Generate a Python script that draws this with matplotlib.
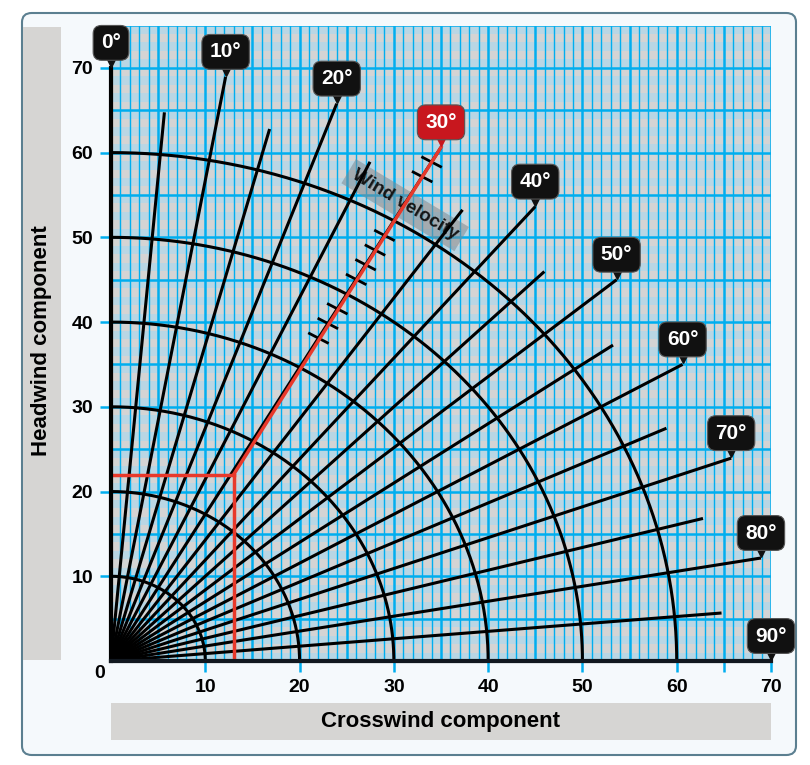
import numpy as np
import matplotlib
matplotlib.use('Agg')
import matplotlib.pyplot as plt
from matplotlib.patches import FancyBboxPatch, Rectangle
import matplotlib.transforms as mtransforms

plt.rcParams['font.family'] = ['Liberation Sans', 'DejaVu Sans']
plt.rcParams['font.weight'] = 'bold'

# chart data
major_angles = [0, 10, 20, 30, 40, 50, 60, 70, 80, 90]
minor_angles = [5, 15, 25, 35, 45, 55, 65, 75, 85]
major_len = 70
minor_len = 65
arc_radii = [10, 20, 30, 40, 50, 60]
x_ticks = [10, 20, 30, 40, 50, 60, 70]
y_ticks = [10, 20, 30, 40, 50, 60, 70]
wind_angle = 30
crosswind = 13
headwind = 22
velocity_marks = [44, 46, 48, 52, 54, 56, 58, 66, 68]

W, H = 810, 765
fig = plt.figure(figsize=(W / 100, H / 100), dpi=100)

# outer frame and label boxes (behind the axes)
frame = FancyBboxPatch((22 / W, 1 - 755 / H), (796 - 22) / W, (755 - 13) / H,
                       boxstyle='round,pad=0,rounding_size=0.012',
                       transform=fig.transFigure, fc='#f5f9fc', ec='#5b7f90', lw=1.5, zorder=-3)
fig.patches.append(frame)
fig.patches.append(Rectangle((23 / W, 1 - 660 / H), 38 / W, 633 / H,
                             transform=fig.transFigure, fc='#d6d5d3', ec='none', zorder=-2))
fig.patches.append(Rectangle((111 / W, 1 - 740 / H), 660 / W, 37 / H,
                             transform=fig.transFigure, fc='#d6d5d3', ec='none', zorder=-2))
fig.text(42 / W, 1 - 341 / H, 'Headwind component', rotation=90,
         ha='center', va='center', fontsize=16)
fig.text(441 / W, 1 - 721 / H, 'Crosswind component', ha='center', va='center', fontsize=16)

ax = fig.add_axes([111 / W, 104 / H, 660 / W, (661 - 25.5) / H])
ax.set_xlim(0, 70)
ax.set_ylim(0, 75)
ax.set_facecolor('#d4d4d4')

# graph paper
for k in range(0, 75, 2):
    ax.axhspan(k, k + 1, color='#b9d6e4', lw=0, zorder=0)
for x in range(1, 71):
    ax.axvline(x, color='#00aeef', lw=1.0 if x % 5 else 1.8, zorder=1)
for y in range(5, 76, 5):
    ax.axhline(y, color='#00aeef', lw=1.8, zorder=1)

for s in ['top', 'right']:
    ax.spines[s].set_visible(False)
ax.spines['left'].set_linewidth(3)
ax.spines['left'].set_bounds(0, 70)
ax.spines['bottom'].set_linewidth(3)
ax.spines['bottom'].set_color('#111820')
ax.spines['left'].set_zorder(4)
ax.spines['bottom'].set_zorder(4)

ax.set_xticks(x_ticks)
ax.set_xticks([65], minor=True)
ax.set_yticks(y_ticks)
ax.tick_params(axis='both', which='both', direction='out', length=8, width=1.8,
               color='#00aeef', labelsize=14, pad=5)
ax.annotate('0', xy=(0, 0), xytext=(-8, -9), textcoords='offset points',
            ha='center', va='center', fontsize=14, annotation_clip=False)

# spokes
for a in minor_angles:
    t = np.radians(a)
    ax.plot([0, minor_len * np.sin(t)], [0, minor_len * np.cos(t)],
            color='black', lw=2.2, solid_capstyle='butt', zorder=3)
for a in major_angles:
    t = np.radians(a)
    ax.plot([0, major_len * np.sin(t)], [0, major_len * np.cos(t)],
            color='black', lw=2.2, solid_capstyle='butt', zorder=3, clip_on=False)

# arcs
th = np.linspace(0, np.pi / 2, 300)
for r in arc_radii:
    ax.plot(r * np.sin(th), r * np.cos(th), color='black', lw=2.2, zorder=3)

# wind example
red = '#e8392b'
tw = np.radians(wind_angle)
ax.plot([0, crosswind], [headwind, headwind], color=red, lw=2.5, zorder=4)
ax.plot([crosswind, crosswind], [0, headwind], color=red, lw=2.5, zorder=4)
ax.plot([crosswind, major_len * np.sin(tw)], [headwind, major_len * np.cos(tw)],
        color=red, lw=2.5, zorder=4)
for r in velocity_marks:
    cx, cy = r * np.sin(tw), r * np.cos(tw)
    dx, dy = 1.1 * np.cos(tw), -1.1 * np.sin(tw)
    ax.plot([cx - dx, cx + dx], [cy - dy, cy + dy], color='black', lw=2, zorder=3)

ax.text(31.2, 53.8, 'Wind velocity', rotation=-31, rotation_mode='anchor',
        ha='center', va='center', fontsize=13.5, fontweight='bold', color='#151515', zorder=2.5,
        bbox=dict(boxstyle='square,pad=0.3', fc='#7d8a92', ec='none', alpha=0.55))

# angle badges
for a in major_angles:
    t = np.radians(a)
    ex, ey = major_len * np.sin(t), major_len * np.cos(t)
    fc = '#c8171e' if a == wind_angle else '#111111'
    off = mtransforms.offset_copy(ax.transData, fig=fig, x=0, y=5, units='points')
    ax.plot(ex, ey, marker='v', ms=9, color=fc, transform=off, clip_on=False, zorder=6)
    ax.annotate(f'{a}°', xy=(ex, ey), xytext=(0, 18), textcoords='offset points',
                ha='center', va='center', color='white', fontsize=15,
                bbox=dict(boxstyle='round,pad=0.38,rounding_size=0.4', fc=fc, ec='#555555', lw=0.8),
                zorder=7, annotation_clip=False)

fig.savefig('out.png', dpi=100)
